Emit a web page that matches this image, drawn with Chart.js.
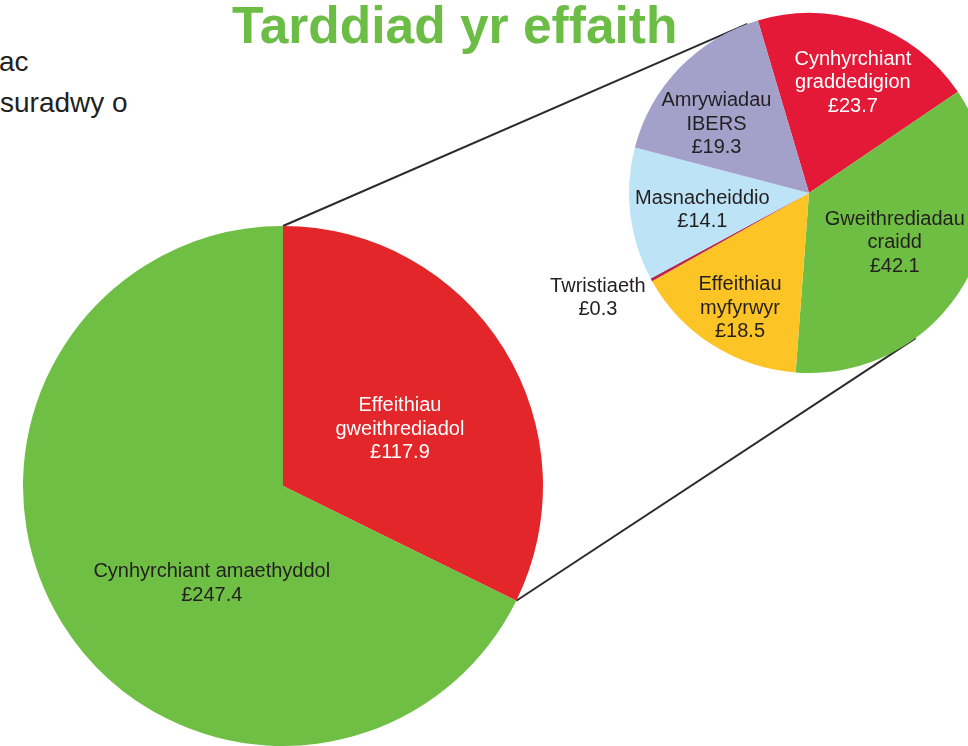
<!DOCTYPE html>
<html>
<head>
<meta charset="utf-8">
<script src="https://cdn.jsdelivr.net/npm/chart.js@4/dist/chart.umd.min.js"></script>
<style>
  html, body { margin: 0; padding: 0; background: #fff; width: 968px; height: 746px; overflow: hidden; }
  body { position: relative; font-family: 'Liberation Sans', Arial, sans-serif; }
  canvas { position: absolute; }
  #links { left: 0; top: 0; z-index: 0; }
  #bigPie { left: 0; top: 200px; z-index: 1; }
  #smallPie { left: 520px; top: 0; z-index: 1; }
  .title { position: absolute; left: 232px; top: 0; font-size: 51.5px; line-height: 51px; font-weight: bold; color: #6cbd45; white-space: nowrap; z-index: 2; }
  .side { position: absolute; font-size: 28px; line-height: 41px; color: #231f20; white-space: nowrap; }
</style>
</head>
<body>
<div class="side" style="left:-1px; top:41px;">ac</div>
<div class="side" style="left:0; top:82px;">suradwy o</div>
<div class="title">Tarddiad yr effaith</div>
<canvas id="links" width="968" height="746"></canvas>
<canvas id="bigPie" width="560" height="546"></canvas>
<canvas id="smallPie" width="480" height="400"></canvas>
<script>
// prif siart (£m)
const bigLabels = [['Effeithiau', 'gweithrediadol'], ['Cynhyrchiant amaethyddol']];
const bigValues = [117.9, 247.4];
const bigColors = ['#e2262a', '#6fbf44'];

// dadansoddiad o'r effeithiau gweithrediadol
const smallLabels = [
  ['Cynhyrchiant', 'graddedigion'],
  ['Gweithrediadau', 'craidd'],
  ['Effeithiau', 'myfyrwyr'],
  ['Twristiaeth'],
  ['Masnacheiddio'],
  ['Amrywiadau', 'IBERS']
];
const smallValues = [23.7, 42.1, 18.5, 0.3, 14.1, 19.3];
const smallColors = ['#e31937', '#6fbe44', '#fdc425', '#b8244f', '#bde3f6', '#a3a1c9'];

const DARK = '#231f20';

// label placement: fraction of radius + angle shift (deg) from slice middle
const bigLayout = [
  { frac: 0.5, shift: 6, color: '#fff' },
  { frac: 0.465, shift: -22, color: DARK }
];
const smallLayout = [
  { frac: 0.66, shift: 2, color: '#fff' },
  { frac: 0.55, shift: 0, color: DARK },
  { frac: 0.745, shift: -1.5, color: DARK },
  { frac: 1.31, shift: 2.4, color: DARK },
  { frac: 0.6, shift: -2.2, color: DARK },
  { frac: 0.64, shift: -7.5, color: DARK }
];

// where the connector lines meet the small pie (deg clockwise from top)
const linkAngles = [-20, 143.7];

const sliceLabels = {
  id: 'sliceLabels',
  afterDatasetsDraw(chart, args, opts) {
    const ctx = chart.ctx;
    const meta = chart.getDatasetMeta(0);
    const labels = chart.data.labels;
    const values = chart.data.datasets[0].data;
    ctx.save();
    ctx.font = opts.font;
    ctx.textAlign = 'center';
    ctx.textBaseline = 'middle';
    meta.data.forEach((arc, i) => {
      const lay = opts.layout[i];
      const p = arc.getProps(['x', 'y', 'startAngle', 'endAngle', 'outerRadius']);
      const a = (p.startAngle + p.endAngle) / 2 + lay.shift * Math.PI / 180;
      const r = p.outerRadius * lay.frac;
      const cx = p.x + Math.cos(a) * r;
      const cy = p.y + Math.sin(a) * r;
      const lines = [...labels[i], '£' + values[i].toFixed(1)];
      ctx.fillStyle = lay.color;
      lines.forEach((t, j) => {
        ctx.fillText(t, cx, cy + (j - (lines.length - 1) / 2) * opts.lineHeight);
      });
    });
    ctx.restore();
  }
};

const labelFont = '20px "Liberation Sans", Arial, sans-serif';

function makePie(id, labels, values, colors, rotation, padding, layout) {
  return new Chart(document.getElementById(id), {
    type: 'pie',
    data: {
      labels: labels,
      datasets: [{ data: values, backgroundColor: colors, borderWidth: 0 }]
    },
    options: {
      responsive: false,
      animation: false,
      rotation: rotation,
      layout: { padding: padding },
      plugins: {
        legend: { display: false },
        tooltip: { enabled: false },
        sliceLabels: { layout: layout, font: labelFont, lineHeight: 23.5 }
      }
    },
    plugins: [sliceLabels]
  });
}

const bigChart = makePie('bigPie', bigLabels, bigValues, bigColors, 0,
  { left: 23, top: 26, right: 17, bottom: 0 }, bigLayout);
const smallChart = makePie('smallPie', smallLabels, smallValues, smallColors, -16.5,
  { left: 109, top: 13, right: 11, bottom: 27 }, smallLayout);

// connector lines from the red slice to the breakdown pie
function drawLinks() {
  const big = bigChart.getDatasetMeta(0).data[0].getProps(['x', 'y', 'startAngle', 'endAngle', 'outerRadius']);
  const sm = smallChart.getDatasetMeta(0).data[0].getProps(['x', 'y', 'outerRadius']);
  const bigOff = [0, 200], smOff = [520, 0];
  const bigPts = [big.startAngle, big.endAngle].map(a => [
    bigOff[0] + big.x + Math.cos(a) * big.outerRadius,
    bigOff[1] + big.y + Math.sin(a) * big.outerRadius
  ]);
  const smPts = linkAngles.map(d => {
    const a = (d - 90) * Math.PI / 180;
    return [smOff[0] + sm.x + Math.cos(a) * sm.outerRadius, smOff[1] + sm.y + Math.sin(a) * sm.outerRadius];
  });
  const ctx = document.getElementById('links').getContext('2d');
  ctx.strokeStyle = '#2b2b2b';
  ctx.lineWidth = 2;
  for (let i = 0; i < 2; i++) {
    ctx.beginPath();
    ctx.moveTo(bigPts[i][0], bigPts[i][1]);
    ctx.lineTo(smPts[i][0], smPts[i][1]);
    ctx.stroke();
  }
}
drawLinks();
</script>
</body>
</html>
